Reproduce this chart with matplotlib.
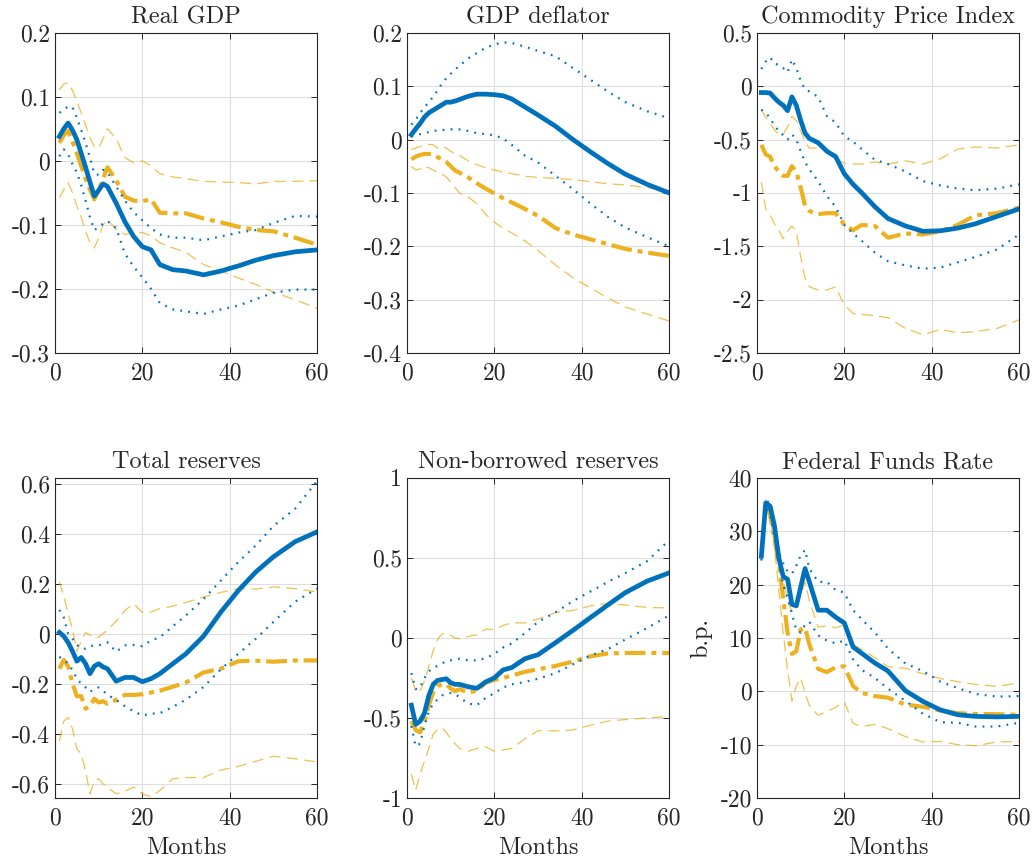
import numpy as np
import matplotlib
matplotlib.use("Agg")
import matplotlib.pyplot as plt
from matplotlib.ticker import MultipleLocator, FuncFormatter

plt.rcParams['font.family'] = ['cmr10', 'DejaVu Serif']
plt.rcParams['axes.unicode_minus'] = False
plt.rcParams['axes.formatter.use_mathtext'] = False

nan = np.nan
months = [1, 2, 3, 4, 5, 6, 7, 8, 9, 10, 11, 12, 14, 16, 18, 20, 22, 24, 27, 30, 34, 38, 42, 46, 50, 55, 60]

titles = ["Real GDP", "GDP deflator", "Commodity Price Index",
          "Total reserves", "Non-borrowed reserves", "Federal Funds Rate"]

# Real GDP
gdp_a = [0.038, 0.05, 0.059, 0.048, 0.033, 0.012, -0.01, -0.033, -0.055, -0.046, -0.036, -0.04, -0.066, -0.095, -0.118, -0.134, -0.139, -0.162, -0.17, -0.172, -0.178, -0.172, -0.164, -0.155, -0.148, -0.142, -0.139]
gdp_a_hi = [0.075, 0.08, 0.085, 0.084, 0.068, 0.048, 0.028, 0.005, -0.02, -0.022, -0.014, -0.018, -0.04, -0.062, -0.08, -0.093, -0.105, -0.115, -0.12, -0.12, -0.124, -0.118, -0.112, -0.108, -0.097, -0.086, -0.087]
gdp_a_lo = [0.007, 0.018, 0.01, -0.005, -0.018, -0.038, -0.062, -0.088, -0.108, -0.104, -0.098, -0.094, -0.105, -0.145, -0.165, -0.182, -0.2, -0.222, -0.232, -0.235, -0.239, -0.232, -0.226, -0.216, -0.206, -0.201, -0.201]
gdp_b = [0.028, 0.04, 0.047, 0.03, 0.012, -0.008, -0.028, -0.045, -0.06, -0.045, -0.028, -0.01, -0.03, -0.056, -0.062, -0.063, -0.06, -0.081, -0.082, -0.082, -0.09, -0.096, -0.103, -0.108, -0.11, -0.12, -0.131]
gdp_b_hi = [0.111, 0.12, 0.122, 0.11, 0.093, 0.075, 0.056, 0.036, 0.022, 0.02, 0.035, 0.05, 0.035, 0.005, -0.003, 0.0, -0.008, -0.02, -0.025, -0.028, -0.032, -0.033, -0.034, -0.036, -0.032, -0.032, -0.031]
gdp_b_lo = [-0.058, -0.045, -0.034, -0.05, -0.07, -0.088, -0.11, -0.128, -0.136, -0.12, -0.1, -0.092, -0.107, -0.115, -0.112, -0.112, -0.117, -0.128, -0.136, -0.143, -0.162, -0.172, -0.183, -0.193, -0.205, -0.217, -0.23]

# GDP deflator
defl_a = [0.009, 0.02, 0.03, 0.042, 0.05, 0.055, 0.06, 0.065, 0.07, 0.07, 0.072, 0.075, 0.081, 0.085, 0.085, 0.084, 0.082, 0.076, 0.061, 0.046, 0.025, 0.0, -0.023, -0.045, -0.065, -0.084, -0.1]
defl_a_hi = [0.028, 0.037, 0.05, 0.06, 0.07, 0.08, 0.092, 0.105, 0.115, 0.123, 0.131, 0.138, 0.152, 0.162, 0.172, 0.178, 0.182, 0.181, 0.174, 0.166, 0.156, 0.134, 0.112, 0.09, 0.07, 0.053, 0.04]
defl_a_lo = [0.006, 0.008, 0.01, 0.012, 0.014, 0.016, 0.017, 0.018, 0.018, 0.019, 0.019, 0.019, 0.016, 0.012, 0.01, 0.008, 0.002, -0.01, -0.03, -0.043, -0.068, -0.093, -0.12, -0.145, -0.165, -0.183, -0.2]
defl_b = [-0.037, -0.032, -0.029, -0.027, -0.027, -0.028, -0.033, -0.037, -0.042, -0.05, -0.058, -0.062, -0.071, -0.082, -0.092, -0.101, -0.11, -0.118, -0.13, -0.143, -0.166, -0.178, -0.187, -0.196, -0.205, -0.212, -0.218]
defl_b_hi = [-0.019, -0.016, -0.013, -0.011, -0.009, -0.01, -0.016, -0.013, -0.016, -0.022, -0.027, -0.03, -0.04, -0.047, -0.053, -0.057, -0.061, -0.064, -0.069, -0.071, -0.073, -0.075, -0.079, -0.083, -0.085, -0.09, -0.097]
defl_b_lo = [-0.05, -0.057, -0.055, -0.05, -0.053, -0.057, -0.061, -0.065, -0.07, -0.08, -0.09, -0.1, -0.108, -0.12, -0.14, -0.155, -0.166, -0.175, -0.19, -0.208, -0.235, -0.259, -0.278, -0.297, -0.314, -0.327, -0.34]

# Commodity price index
comm_a = [-0.06, -0.06, -0.065, -0.11, -0.15, -0.18, -0.23, -0.1, -0.18, -0.32, -0.44, -0.49, -0.53, -0.61, -0.66, -0.82, -0.92, -1.0, -1.13, -1.24, -1.31, -1.36, -1.355, -1.33, -1.29, -1.22, -1.15]
comm_a_hi = [0.16, 0.23, 0.27, 0.21, 0.2, 0.17, 0.13, 0.25, 0.17, 0.05, -0.03, -0.05, -0.1, -0.28, -0.34, -0.47, -0.52, -0.59, -0.69, -0.73, -0.8, -0.89, -0.93, -0.96, -0.975, -0.96, -0.92]
comm_a_lo = [-0.22, -0.25, -0.3, -0.37, -0.42, -0.46, -0.5, -0.45, -0.5, -0.61, -0.71, -0.78, -0.89, -1.03, -1.13, -1.3, -1.38, -1.45, -1.56, -1.64, -1.68, -1.71, -1.7, -1.65, -1.6, -1.53, -1.39]
comm_b = [-0.55, -0.64, -0.66, -0.75, -0.8, -0.84, -0.84, -0.75, -0.8, -0.95, -1.12, -1.17, -1.2, -1.19, -1.19, -1.3, -1.35, -1.3, -1.31, -1.42, -1.38, -1.39, -1.36, -1.3, -1.21, -1.19, -1.14]
comm_b_hi = [-0.22, -0.29, -0.35, -0.41, -0.45, -0.45, -0.38, -0.28, -0.32, -0.42, -0.52, -0.58, -0.58, -0.6, -0.69, -0.72, -0.73, -0.73, -0.71, -0.73, -0.7, -0.73, -0.68, -0.59, -0.57, -0.58, -0.55]
comm_b_lo = [-0.9, -1.15, -1.21, -1.29, -1.35, -1.43, -1.36, -1.31, -1.36, -1.6, -1.8, -1.88, -1.91, -1.91, -1.88, -2.05, -2.13, -2.14, -2.15, -2.17, -2.27, -2.33, -2.28, -2.31, -2.3, -2.27, -2.19]

# Total reserves
tr_a = [0.005, -0.01, -0.035, -0.07, -0.11, -0.095, -0.12, -0.16, -0.13, -0.12, -0.133, -0.14, -0.19, -0.175, -0.175, -0.192, -0.18, -0.16, -0.12, -0.08, -0.01, 0.087, 0.173, 0.247, 0.307, 0.368, 0.407]
tr_a_hi = [0.095, 0.065, 0.0, -0.02, -0.045, -0.058, -0.06, -0.05, -0.047, -0.047, -0.04, -0.035, -0.072, -0.047, -0.045, -0.05, -0.027, -0.015, 0.03, 0.073, 0.138, 0.213, 0.287, 0.353, 0.43, 0.5, 0.61]
tr_a_lo = [-0.093, -0.103, -0.12, -0.145, -0.18, -0.2, -0.215, -0.233, -0.22, -0.215, -0.227, -0.245, -0.265, -0.29, -0.31, -0.327, -0.32, -0.318, -0.293, -0.263, -0.213, -0.142, -0.08, -0.02, 0.047, 0.128, 0.18]
tr_b = [-0.14, -0.105, -0.13, -0.2, -0.25, -0.25, -0.3, -0.29, -0.26, -0.275, -0.27, -0.28, -0.265, -0.245, -0.245, -0.242, -0.235, -0.228, -0.212, -0.195, -0.155, -0.14, -0.11, -0.108, -0.112, -0.107, -0.107]
tr_b_hi = [0.207, 0.15, 0.08, 0.02, -0.07, -0.03, 0.005, -0.005, -0.015, -0.015, 0.0, 0.015, 0.05, 0.093, 0.12, 0.085, 0.087, 0.1, 0.11, 0.125, 0.147, 0.165, 0.18, 0.178, 0.187, 0.18, 0.167]
tr_b_lo = [-0.43, -0.35, -0.335, -0.38, -0.46, -0.48, -0.55, -0.64, -0.59, -0.58, -0.6, -0.615, -0.64, -0.63, -0.613, -0.64, -0.652, -0.627, -0.58, -0.575, -0.575, -0.545, -0.53, -0.51, -0.49, -0.5, -0.513]

# Non-borrowed reserves
nbr_a = [-0.42, -0.54, -0.52, -0.47, -0.36, -0.29, -0.265, -0.26, -0.255, -0.28, -0.29, -0.29, -0.305, -0.315, -0.275, -0.25, -0.2, -0.185, -0.13, -0.105, -0.03, 0.047, 0.127, 0.206, 0.283, 0.355, 0.406]
nbr_a_hi = [-0.22, -0.32, -0.31, -0.25, -0.21, -0.185, -0.175, -0.16, -0.145, -0.14, -0.135, -0.13, -0.14, -0.14, -0.127, -0.1, -0.06, -0.035, 0.03, 0.1, 0.16, 0.23, 0.29, 0.35, 0.405, 0.48, 0.61]
nbr_a_lo = [-0.55, -0.677, -0.66, -0.55, -0.46, -0.41, -0.385, -0.36, -0.35, -0.344, -0.35, -0.37, -0.41, -0.42, -0.375, -0.345, -0.31, -0.29, -0.275, -0.255, -0.22, -0.165, -0.11, -0.07, -0.01, 0.062, 0.14]
nbr_b = [-0.52, -0.575, -0.59, -0.52, -0.42, -0.34, -0.3, -0.29, -0.29, -0.315, -0.333, -0.32, -0.34, -0.33, -0.28, -0.262, -0.25, -0.235, -0.212, -0.195, -0.175, -0.148, -0.115, -0.097, -0.094, -0.094, -0.094]
nbr_b_hi = [-0.25, -0.33, -0.33, -0.27, -0.18, -0.08, -0.01, 0.025, 0.03, 0.015, 0.0, -0.005, 0.01, 0.02, 0.055, 0.052, 0.078, 0.094, 0.094, 0.118, 0.158, 0.172, 0.2, 0.215, 0.205, 0.19, 0.1875]
nbr_b_lo = [-0.85, -0.95, -0.85, -0.77, -0.69, -0.6, -0.575, -0.56, -0.59, -0.63, -0.66, -0.69, -0.708, -0.69, -0.68, -0.708, -0.7, -0.69, -0.63, -0.58, -0.58, -0.575, -0.545, -0.52, -0.51, -0.5, -0.49]

# Federal funds rate (b.p.)
ffr_a = [25.3, 35.3, 34.7, 31, 25, 21.5, 21, 16.3, 16, 19.5, 23, 20.5, 15.2, 15.2, 13.9, 12.8, 8.3, 7.1, 5.3, 3.8, 0.1, -1.9, -3.5, -4.4, -4.7, -4.8, -4.7]
ffr_a_hi = [26, 36, 35, 31, 26, 24, 22.5, 22, 23.5, 25.5, 26.5, 23, 20.5, 20.5, 19, 18.5, 15.2, 13.5, 11, 8, 5.2, 3.8, 1.8, 0.6, -0.5, -1, -0.9]
ffr_a_lo = [24.5, 34.5, 33, 29, 24, 20, 17.5, 14.5, 11.5, 11, 12.5, 13, 10.5, 9.5, 9, 9.5, 6, 4, 2.5, 0.5, -1.8, -4.2, -5.8, -5.9, -6.6, -6.6, -5.9]
ffr_b = [nan, 35, 33, 28.5, 24, 17.5, 11, 7, 7.5, 11.6, 11.9, 8.75, 4.2, 3.6, 4.5, 4.7, 1, -0.3, -0.9, -1.2, -2.5, -2.9, -3.6, -4.1, -4.25, -4.3, -4.4]
ffr_b_hi = [nan, 36, 34, 30, 26.5, 21, 17, 15, 15.5, 18, 20.5, 17, 12, 12.3, 11.9, 12.5, 8.8, 7.8, 6.3, 4.6, 4.3, 3.3, 2.4, 1.8, 1.3, 0.9, 1.6]
ffr_b_lo = [nan, 35.5, 33, 27, 19, 11, 4, -1.8, 1, 2.5, -0.3, -2.7, -4.5, -3.8, -3, -2, -6, -6.6, -6.2, -7, -8.5, -9.5, -9.4, -10, -10.2, -9.5, -9.4]

series = [
    (gdp_a, gdp_a_lo, gdp_a_hi, gdp_b, gdp_b_lo, gdp_b_hi),
    (defl_a, defl_a_lo, defl_a_hi, defl_b, defl_b_lo, defl_b_hi),
    (comm_a, comm_a_lo, comm_a_hi, comm_b, comm_b_lo, comm_b_hi),
    (tr_a, tr_a_lo, tr_a_hi, tr_b, tr_b_lo, tr_b_hi),
    (nbr_a, nbr_a_lo, nbr_a_hi, nbr_b, nbr_b_lo, nbr_b_hi),
    (ffr_a, ffr_a_lo, ffr_a_hi, ffr_b, ffr_b_lo, ffr_b_hi),
]
ylims = [(-0.3, 0.2), (-0.4, 0.2), (-2.5, 0.5), (-0.657, 0.623), (-1, 1), (-20, 40)]
ysteps = [0.1, 0.1, 0.5, 0.2, 0.5, 10]

blue = '#0072BD'
yellow = '#EDB120'
dark = '#262626'

fig = plt.figure(figsize=(10.34, 8.63), dpi=100)
lefts = [0.0532, 0.3936, 0.7321]
bottoms = [0.591, 0.0753]
w, h = 0.2534, 0.371

def fmt(v, pos):
    v = round(v, 6) + 0.0
    return '%g' % v

for i in range(6):
    ax = fig.add_axes([lefts[i % 3], bottoms[i // 3], w, h])
    a, a_lo, a_hi, b, b_lo, b_hi = series[i]

    ax.plot(months, b_hi, color=yellow, lw=0.9, ls=(0, (9, 5)), alpha=0.8)
    ax.plot(months, b_lo, color=yellow, lw=0.9, ls=(0, (9, 5)), alpha=0.8)
    ax.plot(months, b, color=yellow, lw=3.0, ls=(0, (5, 1.4, 1.2, 1.4)))
    ax.plot(months, a_hi, color=blue, lw=1.6, ls=(0, (0.8, 2.8)))
    ax.plot(months, a_lo, color=blue, lw=1.6, ls=(0, (0.8, 2.8)))
    ax.plot(months, a, color=blue, lw=3.4)

    ax.set_xlim(0, 60)
    ax.set_ylim(*ylims[i])
    ax.xaxis.set_major_locator(MultipleLocator(20))
    ax.yaxis.set_major_locator(MultipleLocator(ysteps[i]))
    ax.xaxis.set_major_formatter(FuncFormatter(fmt))
    ax.yaxis.set_major_formatter(FuncFormatter(fmt))
    ax.grid(True, color='#dedede', lw=0.8)
    ax.set_axisbelow(True)
    ax.tick_params(direction='in', top=True, right=True, length=4, width=0.7,
                   labelsize=17, colors=dark)
    ax.tick_params(axis='x', pad=7)
    ax.tick_params(axis='y', pad=3.5)
    for s in ax.spines.values():
        s.set_color(dark)
        s.set_linewidth(0.8)
    ax.set_title(titles[i], fontsize=17.5, color=dark, pad=7)
    if i >= 3:
        ax.set_xlabel('Months', fontsize=17.5, color=dark, labelpad=5)
    if i == 5:
        ax.set_ylabel('b.p.', fontsize=17.5, color=dark, labelpad=6)

fig.savefig('out.png', dpi=100)
